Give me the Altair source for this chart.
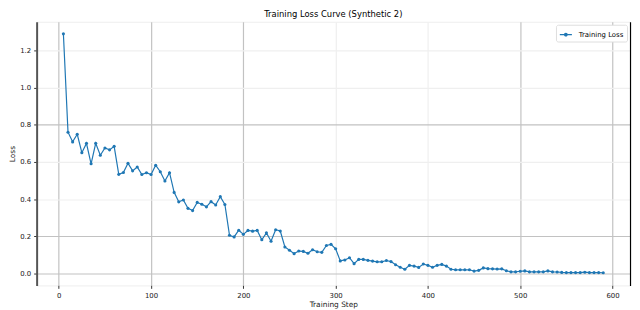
import altair as alt
import pandas as pd

steps = [5, 10, 15, 20, 25, 30, 35, 40, 45, 50, 55, 60, 65, 70, 75, 80, 85, 90, 95, 100,
         105, 110, 115, 120, 125, 130, 135, 140, 145, 150, 155, 160, 165, 170, 175, 180, 185, 190, 195, 200,
         205, 210, 215, 220, 225, 230, 235, 240, 245, 250, 255, 260, 265, 270, 275, 280, 285, 290, 295, 300,
         305, 310, 315, 320, 325, 330, 335, 340, 345, 350, 355, 360, 365, 370, 375, 380, 385, 390, 395, 400,
         405, 410, 415, 420, 425, 430, 435, 440, 445, 450, 455, 460, 465, 470, 475, 480, 485, 490, 495, 500,
         505, 510, 515, 520, 525, 530, 535, 540, 545, 550, 555, 560, 565, 570, 575, 580, 585, 590]

loss = [1.29, 0.76, 0.708, 0.749, 0.65, 0.70, 0.59, 0.70, 0.636, 0.675, 0.665, 0.684, 0.533, 0.543, 0.593, 0.552, 0.573, 0.532, 0.542, 0.532,
        0.582, 0.547, 0.497, 0.542, 0.436, 0.385, 0.395, 0.35, 0.338, 0.382, 0.372, 0.358, 0.386, 0.368, 0.413, 0.371, 0.205, 0.196, 0.232, 0.21,
        0.231, 0.227, 0.231, 0.181, 0.218, 0.173, 0.235, 0.228, 0.142, 0.124, 0.106, 0.12, 0.118, 0.108, 0.127, 0.116, 0.113, 0.15, 0.156, 0.132,
        0.067, 0.072, 0.084, 0.052, 0.075, 0.075, 0.07, 0.066, 0.062, 0.062, 0.069, 0.063, 0.046, 0.033, 0.022, 0.043, 0.039, 0.032, 0.05, 0.043,
        0.033, 0.043, 0.048, 0.039, 0.022, 0.019, 0.019, 0.019, 0.019, 0.012, 0.016, 0.029, 0.025, 0.024, 0.023, 0.024, 0.014, 0.008, 0.008, 0.011,
        0.013, 0.008, 0.008, 0.008, 0.008, 0.013, 0.008, 0.007, 0.005, 0.004, 0.004, 0.004, 0.004, 0.006, 0.004, 0.004, 0.004, 0.003]

series_name = "Training Loss"
x_ticks = [0, 100, 200, 300, 400, 500, 600]
y_ticks = [0.0, 0.2, 0.4, 0.6, 0.8, 1.0, 1.2]

df = pd.DataFrame({"step": steps, "loss": loss, "series": [series_name] * len(steps)})

FONT = "DejaVu Sans"
BLUE = "#1f77b4"

x_scale = alt.Scale(domain=[-24, 619], nice=False, zero=False)
x_axis = alt.Axis(values=x_ticks, format="d", labelFontSize=7, titleFontSize=7.5,
                  titlePadding=2, labelPadding=3, tickSize=3, tickColor="#333",
                  domain=False,
                  gridColor={"condition": {"test": "datum.value == 300 || datum.value == 400",
                                           "value": "#efefef"}, "value": "#c2c2c2"},
                  gridWidth=1.2)

y_scale = alt.Scale(domain=[-0.065, 1.355], nice=False, zero=False)

line = alt.Chart(df).mark_line(
    strokeWidth=1.2,
    point=alt.OverlayMarkDef(filled=True, size=10, color=BLUE)
).encode(
    x=alt.X("step:Q", title="Training Step", scale=x_scale, axis=x_axis),
    y=alt.Y("loss:Q", title="Loss", scale=y_scale,
            axis=alt.Axis(values=y_ticks, format=".1f", labelFontSize=7, titleFontSize=7.5,
                          titlePadding=3, labelPadding=3, tickSize=3, tickColor="#333",
                          domainColor="#555", domainWidth=2,
                          gridColor={"condition": {"test": "datum.value < 0.3 || (datum.value > 0.7 && datum.value < 0.9)",
                                                   "value": "#c2c2c2"}, "value": "#efefef"},
                          gridWidth=1.2)),
    color=alt.Color("series:N", scale=alt.Scale(range=[BLUE]),
                    legend=alt.Legend(title=None, orient="top-right", offset=3,
                                      labelFontSize=7, labelFont=FONT,
                                      symbolType="M-1,0L1,0M-0.22,0a0.22,0.22 0 1,0 0.44,0a0.22,0.22 0 1,0 -0.44,0",
                                      symbolSize=150, symbolStrokeWidth=1.3,
                                      strokeColor="#dddddd", fillColor="white",
                                      padding=3, cornerRadius=2, labelOffset=6))
)

right_spine = alt.Chart(df).mark_point(opacity=0).encode(
    x=alt.X("step:Q", title="Training Step", scale=x_scale, axis=x_axis),
    y=alt.Y("loss:Q", scale=y_scale,
            axis=alt.Axis(orient="right", labels=False, ticks=False, grid=False, title=None,
                          domainColor="#000000", domainWidth=1.2))
)

chart = alt.layer(line, right_spine).resolve_axis(y="independent").properties(
    width=601, height=267,
    autosize=alt.AutoSizeParams(type="none"),
    padding={"left": 29, "top": 12, "right": 2, "bottom": 24},
    title=alt.TitleParams("Training Loss Curve (Synthetic 2)", fontSize=8.5, font=FONT,
                          fontWeight="normal", offset=3, anchor="middle")
).configure(font=FONT).configure_view(stroke="#eeeeee").configure_axis(
    labelFont=FONT, titleFont=FONT, labelColor="#222", titleColor="#222", titleFontWeight="normal"
)

chart.save("out.html", embed_options={"renderer": "svg", "actions": False})
